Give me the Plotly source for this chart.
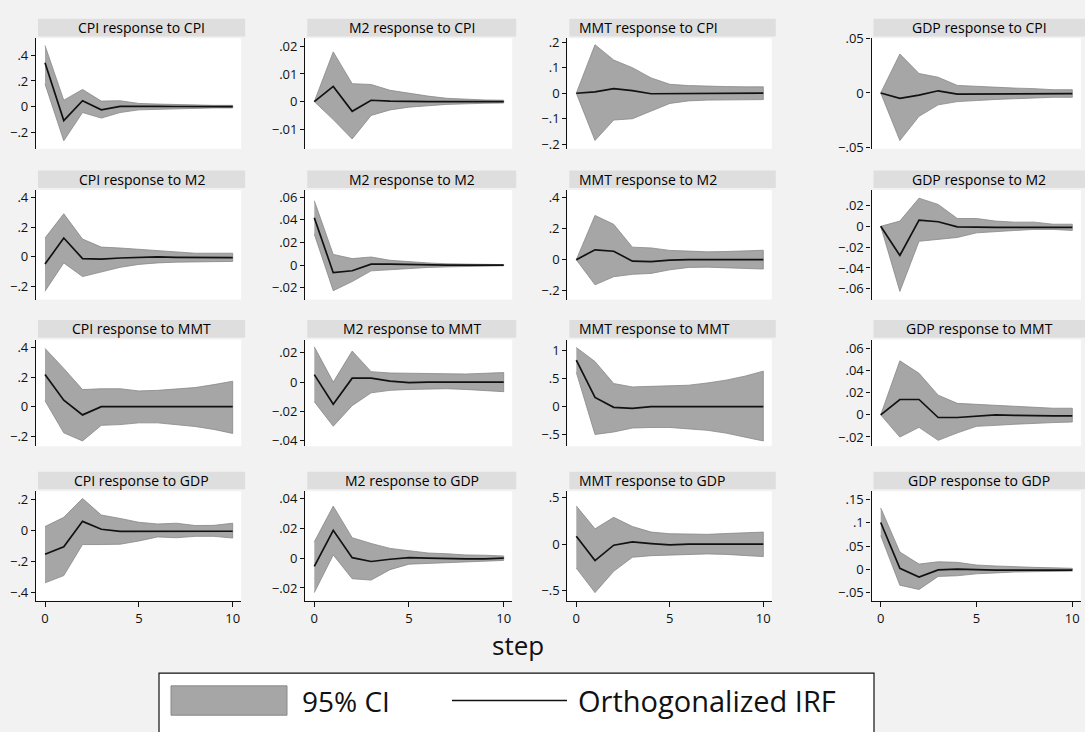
import plotly.graph_objects as go

# ---------------- data ----------------
steps = list(range(11))
variables = ["CPI", "M2", "MMT", "GDP"]

# Row 1: responses to CPI
cpi_cpi_irf = [0.342, -0.109, 0.046, -0.025, 0.002, 0.004, 0.002, 0.001, 0.001, 0.0, 0.0]
cpi_cpi_hi = [0.476, 0.05, 0.134, 0.043, 0.046, 0.025, 0.02, 0.016, 0.013, 0.01, 0.01]
cpi_cpi_lo = [0.177, -0.266, -0.046, -0.089, -0.046, -0.025, -0.02, -0.016, -0.013, -0.01, -0.01]

m2_cpi_irf = [0.0, 0.0055, -0.0035, 0.0005, 0.0002, 0.0, 0.0, 0.0, 0.0, 0.0, 0.0]
m2_cpi_hi = [0.0, 0.018, 0.0065, 0.0062, 0.0041, 0.003, 0.002, 0.0012, 0.0008, 0.0006, 0.0005]
m2_cpi_lo = [0.0, -0.0065, -0.0135, -0.005, -0.003, -0.002, -0.0015, -0.001, -0.0008, -0.0006, -0.0005]

mmt_cpi_irf = [0.0, 0.005, 0.018, 0.01, -0.002, -0.002, 0.0, 0.0, 0.0, 0.0, 0.0]
mmt_cpi_hi = [0.0, 0.19, 0.13, 0.1, 0.06, 0.035, 0.03, 0.027, 0.026, 0.025, 0.025]
mmt_cpi_lo = [0.0, -0.185, -0.105, -0.1, -0.07, -0.04, -0.03, -0.027, -0.026, -0.025, -0.025]

gdp_cpi_irf = [0.0, -0.005, -0.002, 0.002, -0.001, -0.001, -0.001, -0.0008, -0.0008, -0.0007, -0.0006]
gdp_cpi_hi = [0.0, 0.036, 0.018, 0.0145, 0.007, 0.006, 0.005, 0.0045, 0.004, 0.003, 0.003]
gdp_cpi_lo = [0.0, -0.044, -0.0216, -0.011, -0.008, -0.007, -0.006, -0.005, -0.0045, -0.004, -0.004]

# Row 2: responses to M2
cpi_m2_irf = [-0.048, 0.127, -0.011, -0.015, -0.007, -0.003, 0.0, -0.003, -0.005, -0.005, -0.005]
cpi_m2_hi = [0.127, 0.29, 0.12, 0.066, 0.06, 0.05, 0.04, 0.03, 0.025, 0.025, 0.025]
cpi_m2_lo = [-0.23, -0.04, -0.132, -0.1, -0.07, -0.05, -0.04, -0.035, -0.03, -0.03, -0.03]

m2_m2_irf = [0.0417, -0.0066, -0.0049, 0.0009, 0.001, 0.0005, 0.0, 0.0, 0.0, 0.0, 0.0]
m2_m2_hi = [0.0567, 0.0095, 0.0058, 0.0072, 0.0043, 0.003, 0.002, 0.0012, 0.001, 0.0007, 0.0005]
m2_m2_lo = [0.0273, -0.0224, -0.0144, -0.005, -0.004, -0.003, -0.002, -0.0015, -0.001, -0.0007, -0.0005]

mmt_m2_irf = [0.0, 0.063, 0.054, -0.01, -0.012, -0.003, 0.0, 0.0, 0.0, 0.0, 0.0]
mmt_m2_hi = [0.0, 0.283, 0.226, 0.08, 0.075, 0.059, 0.055, 0.05, 0.052, 0.055, 0.06]
mmt_m2_lo = [0.0, -0.161, -0.109, -0.094, -0.088, -0.065, -0.05, -0.048, -0.05, -0.055, -0.06]

gdp_m2_irf = [0.0, -0.028, 0.006, 0.0044, -0.0006, -0.001, -0.001, -0.001, -0.001, -0.001, -0.001]
gdp_m2_hi = [0.0, 0.005, 0.027, 0.021, 0.0075, 0.0075, 0.005, 0.004, 0.004, 0.002, 0.002]
gdp_m2_lo = [0.0, -0.0625, -0.0144, -0.0122, -0.0107, -0.0063, -0.005, -0.004, -0.003, -0.003, -0.004]

# Row 3: responses to MMT
cpi_mmt_irf = [0.218, 0.044, -0.056, 0.0, 0.0, 0.0, 0.0, 0.0, 0.0, 0.0, 0.0]
cpi_mmt_hi = [0.396, 0.26, 0.116, 0.122, 0.122, 0.107, 0.111, 0.12, 0.13, 0.15, 0.173]
cpi_mmt_lo = [0.04, -0.178, -0.233, -0.127, -0.122, -0.11, -0.11, -0.12, -0.135, -0.155, -0.182]

m2_mmt_irf = [0.0051, -0.0151, 0.0027, 0.0027, 0.0007, -0.0004, 0.0, 0.0, 0.0, 0.0, 0.0]
m2_mmt_hi = [0.024, 0.0, 0.0211, 0.0071, 0.0062, 0.006, 0.0055, 0.0055, 0.0055, 0.006, 0.0065]
m2_mmt_lo = [-0.0133, -0.03, -0.016, -0.0073, -0.0056, -0.005, -0.0045, -0.0045, -0.005, -0.0055, -0.0065]

mmt_mmt_irf = [0.826, 0.163, -0.012, -0.03, 0.0, 0.0, 0.0, 0.0, 0.0, 0.0, 0.0]
mmt_mmt_hi = [1.05, 0.8, 0.41, 0.35, 0.36, 0.37, 0.38, 0.42, 0.47, 0.54, 0.63]
mmt_mmt_lo = [0.61, -0.494, -0.45, -0.38, -0.37, -0.37, -0.39, -0.42, -0.47, -0.54, -0.61]

gdp_mmt_irf = [0.0, 0.0139, 0.0139, -0.0024, -0.0024, -0.001, 0.0, -0.0005, -0.001, -0.001, -0.001]
gdp_mmt_hi = [0.0, 0.0489, 0.0376, 0.0178, 0.0104, 0.0095, 0.0085, 0.008, 0.007, 0.006, 0.006]
gdp_mmt_lo = [0.0, -0.0201, -0.0113, -0.0231, -0.0163, -0.0104, -0.0095, -0.0085, -0.0075, -0.007, -0.0065]

# Row 4: responses to GDP
cpi_gdp_irf = [-0.154, -0.106, 0.059, 0.008, -0.006, -0.005, -0.005, -0.005, -0.005, -0.005, -0.005]
cpi_gdp_hi = [0.025, 0.085, 0.207, 0.1, 0.078, 0.053, 0.042, 0.047, 0.032, 0.033, 0.047]
cpi_gdp_lo = [-0.339, -0.292, -0.091, -0.091, -0.089, -0.068, -0.042, -0.047, -0.038, -0.038, -0.049]

m2_gdp_irf = [-0.0055, 0.0187, 0.0004, -0.0022, -0.0007, 0.0004, 0.0, -0.0005, -0.0005, -0.0004, 0.0]
m2_gdp_hi = [0.011, 0.035, 0.0138, 0.0099, 0.0066, 0.005, 0.0035, 0.003, 0.0022, 0.002, 0.0015]
m2_gdp_lo = [-0.0231, 0.0022, -0.0138, -0.0147, -0.0077, -0.004, -0.0035, -0.003, -0.0025, -0.0022, -0.0015]

mmt_gdp_irf = [0.085, -0.177, -0.011, 0.025, 0.007, -0.007, 0.0, 0.0, 0.0, 0.0, 0.0]
mmt_gdp_hi = [0.413, 0.166, 0.29, 0.191, 0.131, 0.113, 0.11, 0.106, 0.115, 0.125, 0.131]
mmt_gdp_lo = [-0.258, -0.523, -0.293, -0.141, -0.124, -0.117, -0.11, -0.105, -0.11, -0.12, -0.134]

gdp_gdp_irf = [0.1007, 0.002, -0.0169, -0.0014, 0.0, -0.0014, -0.002, -0.002, -0.002, -0.002, -0.002]
gdp_gdp_hi = [0.132, 0.037, 0.011, 0.016, 0.0148, 0.009, 0.007, 0.005, 0.004, 0.003, 0.002]
gdp_gdp_lo = [0.0725, -0.0345, -0.0437, -0.0155, -0.0141, -0.0099, -0.008, -0.006, -0.005, -0.0045, -0.004]

# y tick values per panel (row-major: impulse rows, response columns)
y_ticks = [
    [-0.2, 0, 0.2, 0.4], [-0.01, 0, 0.01, 0.02], [-0.2, -0.1, 0, 0.1, 0.2], [-0.05, 0, 0.05],
    [-0.2, 0, 0.2, 0.4], [-0.02, 0, 0.02, 0.04, 0.06], [-0.2, 0, 0.2, 0.4], [-0.06, -0.04, -0.02, 0, 0.02],
    [-0.2, 0, 0.2, 0.4], [-0.04, -0.02, 0, 0.02], [-0.5, 0, 0.5, 1], [-0.02, 0, 0.02, 0.04, 0.06],
    [-0.4, -0.2, 0, 0.2], [-0.02, 0, 0.02, 0.04], [-0.5, 0, 0.5], [-0.05, 0, 0.05, 0.1, 0.15],
]
y_ranges = [
    [-0.329, 0.532], [-0.0171, 0.0229], [-0.218, 0.215], [-0.0517, 0.0505],
    [-0.286, 0.45], [-0.0302, 0.0662], [-0.255, 0.446], [-0.0703, 0.0349],
    [-0.269, 0.456], [-0.0436, 0.0289], [-0.703, 1.19], [-0.0284, 0.0681],
    [-0.455, 0.254], [-0.0286, 0.045], [-0.611, 0.572], [-0.068, 0.168],
]
x_ticks = [0, 5, 10]

series = {
    ("CPI", "CPI"): (cpi_cpi_irf, cpi_cpi_lo, cpi_cpi_hi),
    ("M2", "CPI"): (m2_cpi_irf, m2_cpi_lo, m2_cpi_hi),
    ("MMT", "CPI"): (mmt_cpi_irf, mmt_cpi_lo, mmt_cpi_hi),
    ("GDP", "CPI"): (gdp_cpi_irf, gdp_cpi_lo, gdp_cpi_hi),
    ("CPI", "M2"): (cpi_m2_irf, cpi_m2_lo, cpi_m2_hi),
    ("M2", "M2"): (m2_m2_irf, m2_m2_lo, m2_m2_hi),
    ("MMT", "M2"): (mmt_m2_irf, mmt_m2_lo, mmt_m2_hi),
    ("GDP", "M2"): (gdp_m2_irf, gdp_m2_lo, gdp_m2_hi),
    ("CPI", "MMT"): (cpi_mmt_irf, cpi_mmt_lo, cpi_mmt_hi),
    ("M2", "MMT"): (m2_mmt_irf, m2_mmt_lo, m2_mmt_hi),
    ("MMT", "MMT"): (mmt_mmt_irf, mmt_mmt_lo, mmt_mmt_hi),
    ("GDP", "MMT"): (gdp_mmt_irf, gdp_mmt_lo, gdp_mmt_hi),
    ("CPI", "GDP"): (cpi_gdp_irf, cpi_gdp_lo, cpi_gdp_hi),
    ("M2", "GDP"): (m2_gdp_irf, m2_gdp_lo, m2_gdp_hi),
    ("MMT", "GDP"): (mmt_gdp_irf, mmt_gdp_lo, mmt_gdp_hi),
    ("GDP", "GDP"): (gdp_gdp_irf, gdp_gdp_lo, gdp_gdp_hi),
}

# ---------------- layout geometry (pixels) ----------------
W, H = 1085, 732
FONT = "Open Sans"
col_x0 = [45.0, 314.3, 576.3, 880.7]     # pixel of step 0
col_x10 = [232.7, 503.7, 763.3, 1072.3]  # pixel of step 10
XR = [-0.48, 10.45]
row_top = [30, 185, 338, 493]
row_bot = [143, 297, 447, 605]


def fx(px):
    return px / W


def fy(py):
    return 1 - py / H


def fmt(v):
    if v == 0:
        return "0"
    s = f"{abs(v):g}"
    if s.startswith("0."):
        s = s[1:]
    return ("\u2212" if v < 0 else "") + s


fig = go.Figure()
shapes = []
annotations = []
layout_axes = {}

for r, imp in enumerate(variables):
    for c, resp in enumerate(variables):
        k = r * 4 + c
        sfx = "" if k == 0 else str(k + 1)
        irf, lo, hi = series[(resp, imp)]
        xa, ya = "x" + sfx, "y" + sfx

        fig.add_trace(go.Scatter(
            x=steps + steps[::-1], y=hi + lo[::-1], fill="toself",
            fillcolor="#a6a6a6", line=dict(color="#888888", width=0.8),
            mode="lines", xaxis=xa, yaxis=ya, showlegend=False, hoverinfo="skip"))
        fig.add_trace(go.Scatter(
            x=steps, y=irf, mode="lines", line=dict(color="#111111", width=1.7),
            xaxis=xa, yaxis=ya, showlegend=False))

        s = (col_x10[c] - col_x0[c]) / 10
        left = col_x0[c] + XR[0] * s
        right = col_x0[c] + XR[1] * s
        bottom_row = (r == 3)
        layout_axes["xaxis" + sfx] = dict(
            domain=[fx(left), fx(right)], range=XR, anchor=ya,
            showline=bottom_row, linecolor="#111", linewidth=1.3,
            ticks="outside" if bottom_row else "", ticklen=5, tickcolor="#111",
            tickvals=x_ticks, showticklabels=bottom_row,
            tickfont=dict(family=FONT, size=13, color="#111"),
            showgrid=False, zeroline=False)
        layout_axes["yaxis" + sfx] = dict(
            domain=[fy(row_bot[r]), fy(row_top[r])], range=y_ranges[k], anchor=xa,
            showline=True, linecolor="#111", linewidth=1.3,
            ticks="outside", ticklen=4, tickcolor="#111",
            tickvals=y_ticks[k], ticktext=[fmt(v) for v in y_ticks[k]],
            tickfont=dict(family=FONT, size=13, color="#111"),
            showgrid=False, zeroline=False)

        # title band
        bx0, bx1 = left + 2, right + 4
        by0, by1 = row_top[r] - 20, row_top[r] - 2
        shapes.append(dict(type="rect", xref="paper", yref="paper",
                           x0=fx(bx0), x1=fx(bx1), y0=fy(by1), y1=fy(by0),
                           fillcolor="#dedede", line=dict(width=0), layer="below"))
        title = f"{resp} response to {imp}"
        tfont = dict(family=FONT, size=14, color="#000")
        if resp == "MMT":
            annotations.append(dict(text=title, xref="paper", yref="paper",
                                    x=fx(bx0 + 8), y=fy((by0 + by1) / 2),
                                    xanchor="left", yanchor="middle", showarrow=False,
                                    font=tfont))
        else:
            annotations.append(dict(text=title, xref="paper", yref="paper",
                                    x=fx((bx0 + bx1) / 2), y=fy((by0 + by1) / 2),
                                    xanchor="center", yanchor="middle", showarrow=False,
                                    font=tfont))

# x title
annotations.append(dict(text="step", xref="paper", yref="paper", x=fx(518), y=fy(650),
                        xanchor="center", yanchor="middle", showarrow=False,
                        font=dict(family=FONT, size=26, color="#111")))

# legend box
shapes.append(dict(type="rect", xref="paper", yref="paper", x0=fx(159), x1=fx(874),
                   y0=fy(745), y1=fy(679), fillcolor="#ffffff",
                   line=dict(color="#111", width=1.2), layer="below"))
shapes.append(dict(type="rect", xref="paper", yref="paper", x0=fx(171), x1=fx(287),
                   y0=fy(722), y1=fy(692), fillcolor="#a6a6a6",
                   line=dict(color="#888888", width=1)))
shapes.append(dict(type="line", xref="paper", yref="paper", x0=fx(452), x1=fx(567),
                   y0=fy(707), y1=fy(707), line=dict(color="#111", width=1.6)))
annotations.append(dict(text="95% CI", xref="paper", yref="paper", x=fx(300), y=fy(707),
                        xanchor="left", yanchor="middle", showarrow=False,
                        font=dict(family=FONT, size=28, color="#111")))
annotations.append(dict(text="Orthogonalized IRF", xref="paper", yref="paper", x=fx(576),
                        y=fy(707), xanchor="left", yanchor="middle", showarrow=False,
                        font=dict(family=FONT, size=29, color="#111")))

fig.update_layout(
    width=W, height=H, margin=dict(l=0, r=0, t=0, b=0),
    paper_bgcolor="#f2f2f2", plot_bgcolor="#ffffff",
    showlegend=False, shapes=shapes, annotations=annotations,
    font=dict(family=FONT, color="#111"),
    **layout_axes)

fig.write_html("out.html",
               config={"displayModeBar": False},
               post_script="document.body.style.margin='0px';"
                           "document.body.style.overflow='hidden';")
